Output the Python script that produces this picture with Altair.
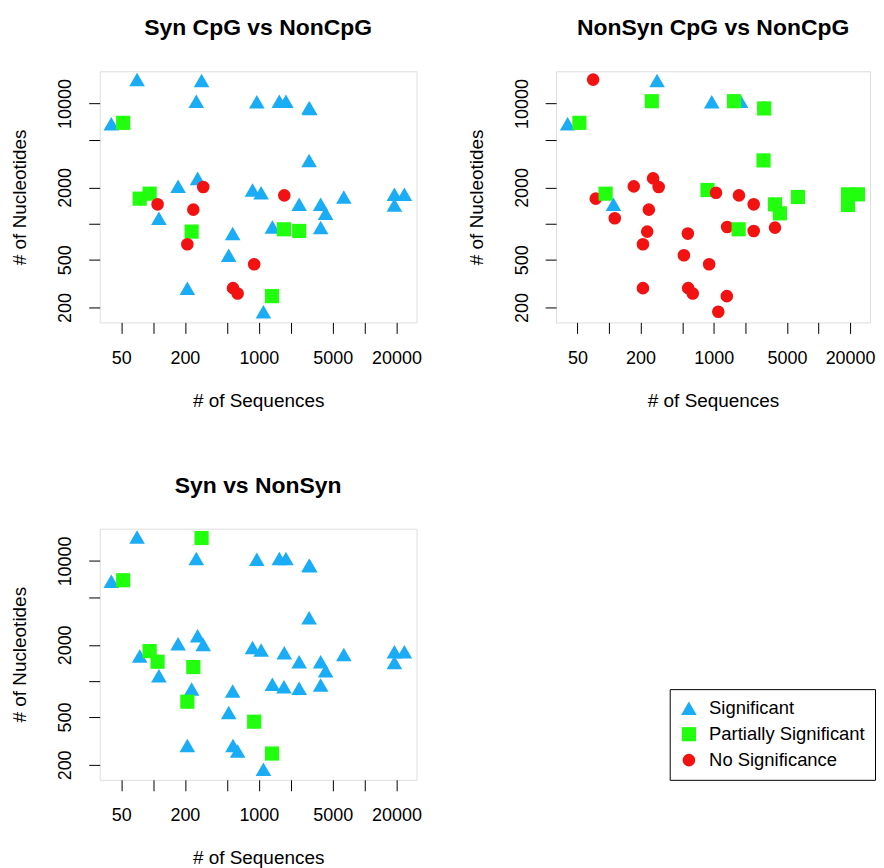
import altair as alt
import pandas as pd

# ---- data ----
seq_counts = [70.6, 287.6, 256.4, 957, 1804, 1562, 2987, 3030, 40.3, 52.2,
              2987, 263.8, 172.5, 298.2, 871.8, 1051, 1740, 74.8, 92.9, 110.4,
              2406, 3842, 4279, 6360, 19130, 23760, 19130, 113.6, 240.3, 231.7,
              565.9, 1343, 1728, 2406, 3842, 211, 519, 903.6, 211, 570,
              630.6, 1333, 1105]
nuc_counts = [15830, 15530, 10460, 10325, 10460, 10460, 9204, 9100, 6776, 6906,
              3358, 2379, 2041, 2015, 1903, 1808, 1718, 1612, 1774, 1446,
              1446, 1446, 1217, 1664, 1751, 1751, 1428, 1106, 1306, 857,
              825, 937, 896, 868, 925, 672, 545, 458, 289.6, 289.6,
              261.5, 248.5, 184]

# S = Significant, P = Partially Significant, N = No Significance
sig_syn_cpg = list("SSSSSSSSSPSSSNSSNPPNSSSSSSSSNPSSPPSNSNSNNPS")
sig_nonsyn_cpg = list("NSPSSPNPSPPNNNPNNNPSNPPPPPPNNNNNPNNNNNNNNNN")
sig_syn_nonsyn = list("SPSSSSSSSPSSSSSSSSPPSSSSSSSSPSSSSSSPSPSSSPS")

categories = ["Significant", "Partially Significant", "No Significance"]
code_names = {"S": "Significant", "P": "Partially Significant", "N": "No Significance"}
colors = ["#1AADF5", "#22FF0E", "#F21212"]
shapes = ["triangle-up", "square", "circle"]
sizes = [245, 160, 140]

x_ticks = [50, 100, 200, 500, 1000, 2000, 5000, 10000, 20000]
x_labeled = [50, 200, 1000, 5000, 20000]
y_ticks = [200, 500, 1000, 2000, 5000, 10000]
y_labeled = [200, 500, 2000, 10000]

df = pd.DataFrame({
    "seq": seq_counts,
    "nuc": nuc_counts,
    "syn_cpg": [code_names[c] for c in sig_syn_cpg],
    "nonsyn_cpg": [code_names[c] for c in sig_nonsyn_cpg],
    "syn_nonsyn": [code_names[c] for c in sig_syn_nonsyn],
})

FONT = "Liberation Sans"


def label_expr(labeled):
    cond = " || ".join(f"datum.value == {v}" for v in labeled)
    return f"({cond}) ? format(datum.value, 'd') : ''"


x_axis = alt.Axis(values=x_ticks, labelExpr=label_expr(x_labeled), tickSize=11,
                  tickColor="black", tickWidth=1, domain=False, grid=False,
                  labelFontSize=18, labelColor="black", labelPadding=16,
                  labelOverlap=False, labelFlush=False, labelBound=False,
                  titleFontSize=19, titleFontWeight="normal", titleColor="black",
                  titlePadding=24, labelFont=FONT, titleFont=FONT)
y_axis = alt.Axis(values=y_ticks, labelExpr=label_expr(y_labeled), tickSize=11,
                  tickColor="black", tickWidth=1, domain=False, grid=False,
                  labelFontSize=18, labelColor="black", labelPadding=14,
                  labelAngle=-90, labelAlign="center", labelBaseline="bottom",
                  labelOverlap=False, labelFlush=False, labelBound=False,
                  titleFontSize=19, titleFontWeight="normal", titleColor="black",
                  titlePadding=27, labelFont=FONT, titleFont=FONT)


def panel(field, title, legend=None, w=318):
    return alt.Chart(df).mark_point(filled=True, opacity=1, strokeWidth=0).encode(
        x=alt.X("seq:Q", title="# of Sequences",
                scale=alt.Scale(type="log", domain=[31.3, 31000], nice=False),
                axis=x_axis),
        y=alt.Y("nuc:Q", title="# of Nucleotides",
                scale=alt.Scale(type="log", domain=[150.1, 18570], nice=False),
                axis=y_axis),
        color=alt.Color(f"{field}:N", scale=alt.Scale(domain=categories, range=colors),
                        legend=legend),
        shape=alt.Shape(f"{field}:N", scale=alt.Scale(domain=categories, range=shapes),
                        legend=legend),
        size=alt.Size(f"{field}:N", scale=alt.Scale(domain=categories, range=sizes),
                      legend=None),
    ).properties(
        width=w, height=252,
        title=alt.TitleParams(title, fontSize=23, fontWeight="bold", font=FONT,
                              anchor="middle", baseline="alphabetic", offset=13,
                              frame="group", color="black"),
    )


legend = alt.Legend(title=None, orient="none", legendX=572, legendY=161,
                    strokeColor="black", padding=10, cornerRadius=0,
                    labelFontSize=18.5, labelFont=FONT, labelColor="black",
                    symbolSize=90, symbolStrokeWidth=0, rowPadding=7,
                    labelOffset=11)

p1 = panel("syn_cpg", "Syn CpG vs NonCpG")
p2 = panel("nonsyn_cpg", "NonSyn CpG vs NonCpG", w=315)
p3 = panel("syn_nonsyn", "Syn vs NonSyn", legend=legend)

chart = alt.concat(p1, p2, p3, columns=2, spacing={"row": 207, "column": 140},
                   bounds="flush").resolve_legend(
    color="independent", shape="independent", size="independent"
).configure_view(stroke="black", strokeWidth=1).configure(
    font=FONT, background="white", padding={"left": 2, "top": 7, "right": 0, "bottom": 0}
)

chart.save("out.html", embed_options={"renderer": "svg", "actions": False})
